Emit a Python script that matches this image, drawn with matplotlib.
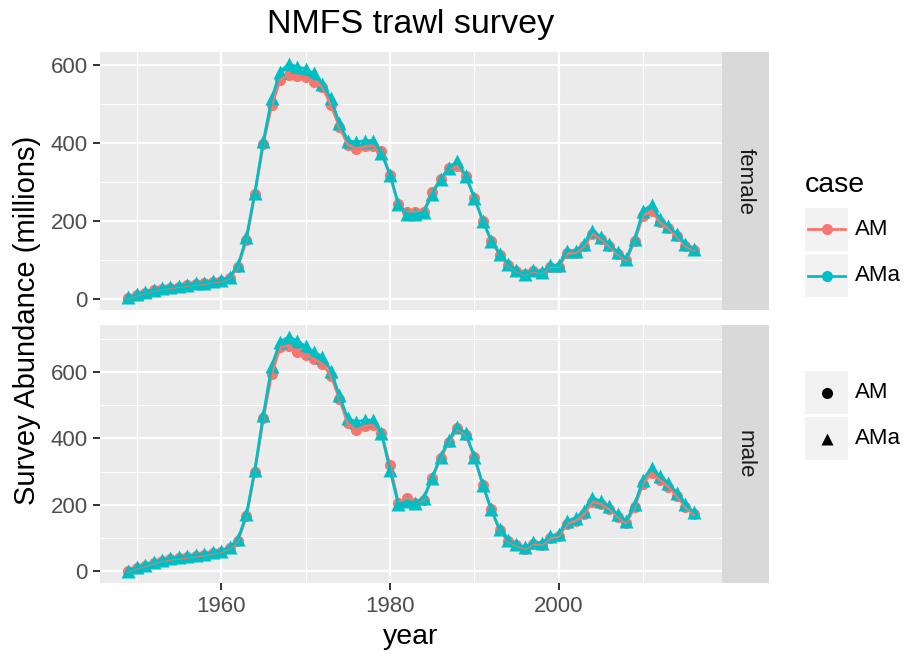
import numpy as np
import matplotlib
matplotlib.use("Agg")
import matplotlib.pyplot as plt

plt.rcParams['font.family'] = ['Liberation Sans', 'DejaVu Sans']

# data
years = np.arange(1949, 2017)

female_AMa = [5, 13, 19, 25, 30, 32, 35, 38, 41, 43, 47, 49, 57, 87, 159, 274, 405, 515, 583, 604,
              596, 591, 579, 553, 515, 452, 407, 403, 407, 407, 375, 320, 244, 219, 219, 223, 270, 308,
              337, 354, 316, 261, 202, 151, 117, 90, 75, 66, 75, 70, 87, 87, 125, 125, 142, 176, 161,
              142, 121, 104, 155, 227, 242, 206, 189, 168, 142, 130]
female_AM = [3, 11, 17, 23, 28, 30, 33, 36, 39, 41, 45, 47, 55, 83, 152, 270, 398, 498, 562, 575,
             573, 570, 557, 545, 498, 443, 397, 386, 392, 394, 380, 320, 244, 223, 223, 225, 275, 308,
             336, 341, 316, 261, 202, 151, 115, 88, 73, 64, 72, 68, 84, 84, 118, 120, 136, 168, 155,
             137, 116, 100, 150, 215, 227, 198, 182, 162, 137, 126]
male_AMa = [2, 12, 20, 27, 35, 39, 42, 45, 49, 52, 57, 62, 72, 97, 171, 306, 470, 619, 690, 706,
            694, 677, 660, 646, 604, 530, 460, 450, 455, 455, 415, 306, 201, 211, 206, 221, 281, 345,
            395, 435, 415, 345, 261, 186, 126, 93, 82, 72, 87, 85, 106, 111, 151, 161, 181, 221, 211,
            196, 171, 151, 201, 276, 311, 286, 266, 236, 201, 178]
male_AM = [0, 9, 17, 24, 32, 36, 39, 42, 46, 49, 54, 59, 69, 92, 165, 300, 460, 595, 674, 679,
           659, 652, 639, 624, 589, 520, 445, 425, 437, 440, 415, 320, 206, 221, 206, 216, 281, 340,
           390, 430, 410, 345, 261, 186, 124, 90, 78, 68, 82, 80, 100, 105, 143, 152, 172, 210, 202,
           188, 164, 145, 193, 264, 296, 274, 255, 226, 193, 171]

panels = ["female", "male"]
cases = ["AM", "AMa"]
colors = {"AM": "#F8766D", "AMa": "#00BFC4"}
shapes = {"AM": "o", "AMa": "^"}
sizes = {"AM": 8, "AMa": 10}
series = {"female": {"AM": female_AM, "AMa": female_AMa},
          "male": {"AM": male_AM, "AMa": male_AMa}}

W, H = 907, 656
fig = plt.figure(figsize=(W / 100, H / 100), dpi=100)

def px_box(left, top, right, bottom):
    return [left / W, 1 - bottom / H, (right - left) / W, (bottom - top) / H]

panel_px = {"female": (52, 310), "male": (325, 583)}

for name in panels:
    top, bottom = panel_px[name]
    ax = fig.add_axes(px_box(100, top, 722, bottom))
    ax.set_facecolor("#EBEBEB")
    for s in ax.spines.values():
        s.set_visible(False)

    # points first, lines on top (as in the reference)
    for c in cases:
        ax.plot(years, series[name][c], linestyle="none", marker=shapes[c],
                ms=sizes[c], color=colors[c], mec="none", zorder=3)
    for c in cases:
        ax.plot(years, series[name][c], color=colors[c], lw=2.0, zorder=4)

    ax.set_yticks([0, 200, 400, 600])
    ax.set_yticks([100, 300, 500, 700], minor=True)
    ax.set_xticks([1960, 1980, 2000])
    ax.set_xticks([1950, 1970, 1990, 2010], minor=True)

    allv = np.concatenate([series[name]["AM"], series[name]["AMa"]])
    lo, hi = allv.min(), allv.max()
    pad = 0.05 * (hi - lo)
    ax.set_ylim(lo - pad, hi + pad)
    x_pad = 0.05 * (years[-1] - years[0])
    ax.set_xlim(years[0] - x_pad, years[-1] + x_pad)

    ax.grid(which="major", color="white", lw=1.6)
    ax.grid(which="minor", color="white", lw=0.8)
    ax.set_axisbelow(True)
    ax.tick_params(which="major", length=5, width=1.4, color="#333333",
                   labelsize=16, labelcolor="#4D4D4D", pad=4)
    ax.tick_params(which="minor", length=0)
    if name == "female":
        ax.tick_params(axis="x", which="both", bottom=False, labelbottom=False)

    strip = fig.add_axes(px_box(722, top, 769, bottom))
    strip.set_facecolor("#D9D9D9")
    strip.set_xticks([])
    strip.set_yticks([])
    for s in strip.spines.values():
        s.set_visible(False)
    strip.text(0.5, 0.5, name, rotation=-90, ha="center", va="center",
               fontsize=16, color="#1A1A1A", transform=strip.transAxes)

fig.text(411 / W, 1 - 25 / H, "NMFS trawl survey", ha="center", va="center", fontsize=24.5)
fig.text(411 / W, 1 - 644 / H, "year", ha="center", va="baseline", fontsize=20.5)
fig.text(27 / W, 1 - 320 / H, "Survey Abundance (millions)", rotation=90,
         ha="center", va="center", fontsize=21)

# legends
fig.text(805 / W, 1 - 185 / H, "case", ha="left", va="center", fontsize=20.5)

def key(top, label, color, marker, line):
    k = fig.add_axes(px_box(805, top, 848, top + 43))
    k.set_facecolor("#F2F2F2")
    k.set_xlim(0, 1)
    k.set_ylim(0, 1)
    k.set_xticks([])
    k.set_yticks([])
    for s in k.spines.values():
        s.set_visible(False)
    if line:
        k.plot([0.07, 0.93], [0.5, 0.5], color=color, lw=2.0)
    k.plot([0.5], [0.5], marker=marker, ms=sizes["AM"] if marker == "o" else sizes["AMa"] - 1,
           color=color, mec="none")
    fig.text(855 / W, 1 - (top + 21.5) / H, label, ha="left", va="center", fontsize=16)

key(208, "AM", colors["AM"], "o", True)
key(254, "AMa", colors["AMa"], "o", True)
key(371, "AM", "black", "o", False)
key(417, "AMa", "black", "^", False)

fig.savefig("out.png", dpi=100)
